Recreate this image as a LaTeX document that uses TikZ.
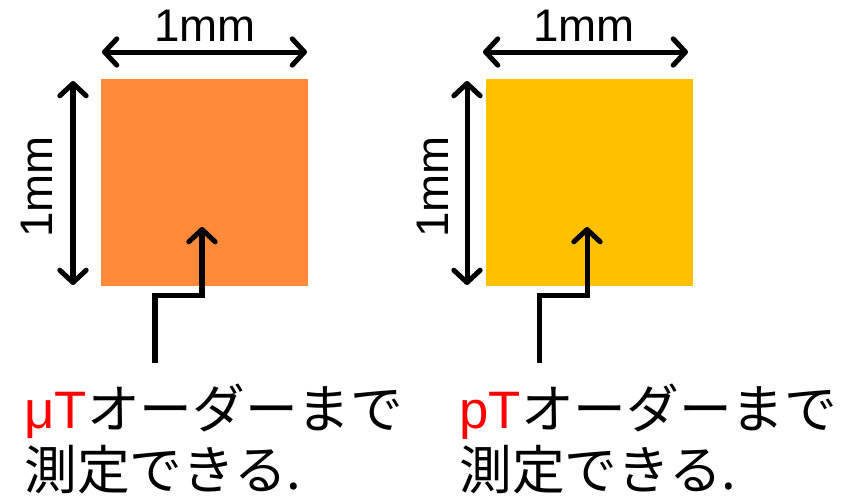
\documentclass[tikz,border=0pt]{standalone}
\usepackage{fontspec}
\setmainfont{Liberation Sans}
\newfontfamily\jp{Noto Sans CJK JP}
\usetikzlibrary{arrows.meta}
\definecolor{chiporange}{RGB}{255,139,58}
\definecolor{chipyellow}{RGB}{255,192,0}

\begin{document}
\begin{tikzpicture}
[x=0.02cm,y=-0.02cm,line width=2.85pt,>={Straight Barb[round,length=7pt,width=15pt]},
chip/.style={draw=none,inner sep=0pt,minimum width=4.14cm,minimum height=4.14cm},
lbl/.style={inner sep=0pt,font=\fontsize{26pt}{26pt}\selectfont},
note/.style={inner sep=0pt,anchor=base west,font=\fontsize{30pt}{36pt}\selectfont}]
\useasboundingbox (0,0) rectangle (848,501);

% left chip
\node[chip,fill=chiporange] (sq1) at (204.5,182.5) {};
\coordinate (h1a) at (102,52);
\coordinate (h1b) at (307,52);
\coordinate (v1a) at (73,81);
\coordinate (v1b) at (73,285);
\coordinate (f1) at (155,363);
\coordinate (p1) at (202,227);
\draw[<->] (h1a) -- (h1b);
\draw[<->] (v1a) -- (v1b);
\node[lbl,anchor=base] (w1) at (205,41) {1mm};
\node[lbl,anchor=base,rotate=90] (l1) at (52,187) {1mm};
\draw[->] (f1) -- ++(0,-68) -| (p1);
\node[note] (t1a) at (22,428) {\textcolor{red}{μT}{\jp オーダーまで}};
\node[note] (t1b) at (22,489) {\jp 測定できる.};

% right chip
\node[chip,fill=chipyellow] (sq2) at (589.5,182.5) {};
\coordinate (h2a) at (483,52);
\coordinate (h2b) at (688,52);
\coordinate (v2a) at (467,81);
\coordinate (v2b) at (467,285);
\coordinate (f2) at (539,363);
\coordinate (p2) at (587,227);
\draw[<->] (h2a) -- (h2b);
\draw[<->] (v2a) -- (v2b);
\node[lbl,anchor=base] (w2) at (584,41) {1mm};
\node[lbl,anchor=base,rotate=90] (l2) at (448,187) {1mm};
\draw[->] (f2) -- ++(0,-68) -| (p2);
\node[note] (t2a) at (457,428) {\textcolor{red}{pT}{\jp オーダーまで}};
\node[note] (t2b) at (457,489) {\jp 測定できる.};
\end{tikzpicture}
\end{document}
